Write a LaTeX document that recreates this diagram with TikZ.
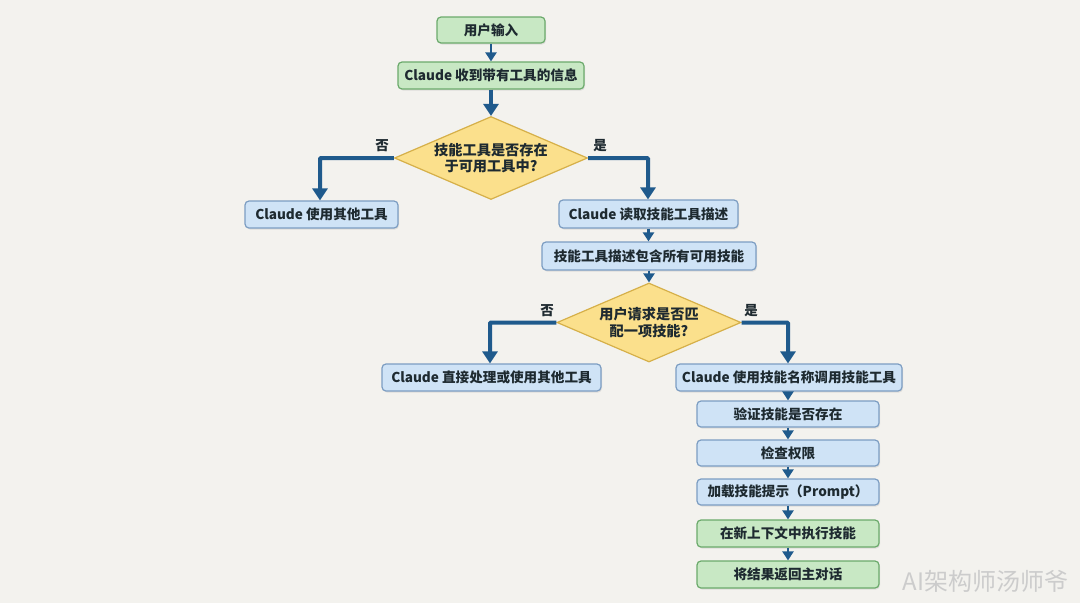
\documentclass[tikz,border=0pt]{standalone}
\usepackage{fontspec}
\setmainfont{Noto Sans CJK SC}
\usetikzlibrary{arrows.meta,shapes.geometric,shadows}
\definecolor{bg}{HTML}{F3F2EE}
\definecolor{gfill}{HTML}{C8E8C4}
\definecolor{gline}{HTML}{6BAA6B}
\definecolor{bfill}{HTML}{CFE3F6}
\definecolor{bline}{HTML}{7C9DC2}
\definecolor{yfill}{HTML}{FBE08C}
\definecolor{yline}{HTML}{D6B049}
\definecolor{arr}{HTML}{1F5A8C}
\definecolor{txt}{HTML}{1E2A30}
\tikzset{
  base/.style={rounded corners=4pt, line width=1.2pt, inner sep=0pt, text=txt,
    font=\fontsize{13.6}{15}\selectfont\bfseries,
    drop shadow={opacity=0.18, shadow xshift=1pt, shadow yshift=-1.5pt}},
  gbox/.style={base, fill=gfill, draw=gline},
  bbox/.style={base, fill=bfill, draw=bline},
  dec/.style={diamond, aspect=2.3, fill=yfill, draw=yline, line width=1.2pt, inner sep=0pt,
    text=txt, align=center, font=\fontsize{14.2}{17.5}\selectfont\bfseries},
  big/.style={draw=arr, line width=4pt, -{Triangle[width=15pt,length=12pt]}},
  small/.style={draw=arr, line width=2.8pt, -{Triangle[width=11pt,length=9pt]}},
  lab/.style={text=txt, font=\fontsize{13.5}{15}\selectfont\bfseries}
}
\begin{document}
\begin{tikzpicture}[x=1pt,y=-1pt]
\fill[bg] (0,0) rectangle (1080,603);
\useasboundingbox (0,0) rectangle (1080,603);

\node[gbox, minimum width=108pt, minimum height=26pt] (n1) at (491,30) {用户输入};
\node[gbox, minimum width=186pt, minimum height=27pt] (n2) at (491,75.5) {Claude 收到带有工具的信息};
\node[dec, minimum width=193pt, minimum height=83pt] (d1) at (491,158) {技能工具是否存在\\[-1pt]于可用工具中?};
\node[bbox, minimum width=153pt, minimum height=27pt] (n3) at (321.5,214.5) {Claude 使用其他工具};
\node[bbox, minimum width=179pt, minimum height=28pt] (n4) at (648.5,214) {Claude 读取技能工具描述};
\node[bbox, minimum width=214pt, minimum height=28pt] (n5) at (649,256) {技能工具描述包含所有可用技能};
\node[dec, minimum width=184pt, minimum height=79pt] (d2) at (649,322.5) {用户请求是否匹\\[-1pt]配一项技能?};
\node[bbox, minimum width=219pt, minimum height=27pt] (n6) at (491.5,377.5) {Claude 直接处理或使用其他工具};
\node[bbox, minimum width=226pt, minimum height=27pt] (n7) at (789,377.5) {Claude 使用技能名称调用技能工具};
\node[bbox, minimum width=182pt, minimum height=26pt] (n8) at (788,414) {验证技能是否存在};
\node[bbox, minimum width=182pt, minimum height=26pt] (n9) at (788,453) {检查权限};
\node[bbox, minimum width=182pt, minimum height=26pt] (n10) at (788,492) {加载技能提示（Prompt）};
\node[gbox, minimum width=182pt, minimum height=27pt] (n11) at (788,533.5) {在新上下文中执行技能};
\node[gbox, minimum width=182pt, minimum height=27pt] (n12) at (788,574.5) {将结果返回主对话};

\node[lab] (l1) at (382,146) {否};
\node[lab] (l2) at (600,146) {是};
\node[lab] (l3) at (547,311) {否};
\node[lab] (l4) at (751,311) {是};

\coordinate (c1) at (320,158);
\coordinate (c2) at (648,158);
\coordinate (c3) at (490,322.5);
\coordinate (c4) at (788,322.5);

\draw[small] (n1) -- (n2);
\draw[big] (n2) -- (d1);
\draw[big, rounded corners=1pt] (d1.west) -- (c1) -- (c1 |- n3.north);
\draw[big, rounded corners=1pt] (d1.east) -- (c2) -- (c2 |- n4.north);
\draw[small] (n4) -- (n4 |- n5.north);
\draw[small] (n5) -- (n5 |- d2.north);
\draw[big, rounded corners=1pt] (d2.west) -- (c3) -- (c3 |- n6.north);
\draw[big, rounded corners=1pt] (d2.east) -- (c4) -- (c4 |- n7.north);
\draw[small] (n8 |- n7.south) -- (n8);
\draw[small] (n8) -- (n9);
\draw[small] (n9) -- (n10);
\draw[small] (n10) -- (n11);
\draw[small] (n11) -- (n12);

\node[text=gray!40, font=\fontsize{24}{26}\selectfont, anchor=east] (wm) at (1072,581) {AI架构师汤师爷};
\end{tikzpicture}
\end{document}
